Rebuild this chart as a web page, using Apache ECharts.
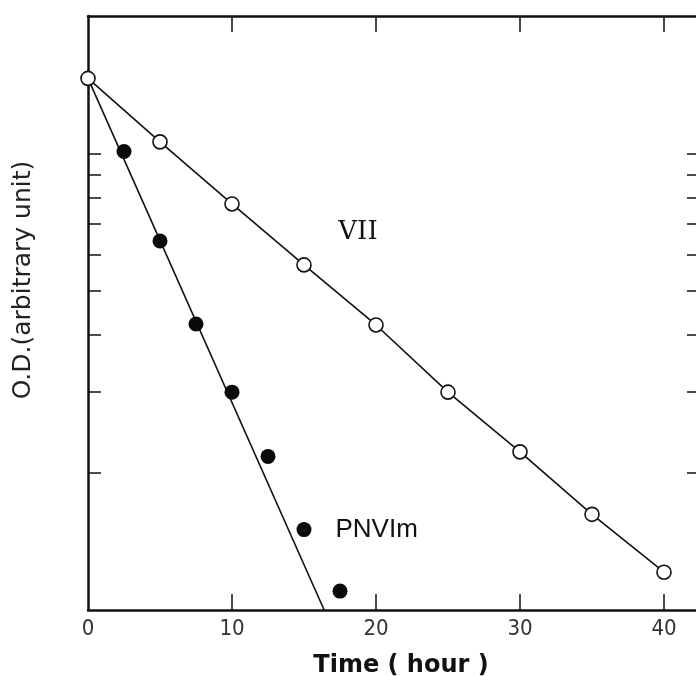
<!DOCTYPE html>
<html>
<head>
<meta charset="utf-8">
<script src="https://cdn.jsdelivr.net/npm/echarts@6/dist/echarts.min.js"></script>
<style>
  html, body { margin: 0; padding: 0; background: #fff; }
  #chart { width: 696px; height: 676px; }
</style>
</head>
<body>
<div id="chart"></div>
<script>
// open circles, compound VII
const hoursVII = [0, 5, 10, 15, 20, 25, 30, 35, 40];
const odVII = [14.6, 10.6, 7.75, 5.7, 4.21, 3.0, 2.22, 1.62, 1.21];
// filled circles, PNVIm
const hoursPNVIm = [2.5, 5, 7.5, 10, 12.5, 15, 17.5];
const odPNVIm = [10.1, 6.43, 4.23, 3.0, 2.17, 1.5, 1.1];
// straight fitted line for PNVIm
const fitHours = [0, 16.4];
const fitOd = [14.6, 1.0];
// axis ticks
const xLabels = [0, 10, 20, 30, 40];
const xTickVals = [10, 20, 30, 40];
const yTickVals = [2, 3, 4, 5, 6, 7, 8, 9, 10];

const chart = echarts.init(document.getElementById('chart'), null, { renderer: 'canvas' });

const axisLine = { show: true, onZero: false, lineStyle: { color: '#111', width: 2.5 } };
const labelFont = '"Liberation Sans Narrow", "DejaVu Sans Condensed", sans-serif';

const yAxisBase = {
  type: 'log',
  logBase: 10,
  min: 1,
  max: 20,
  axisLine: axisLine,
  axisTick: { show: true, inside: true, length: 13, customValues: yTickVals, lineStyle: { color: '#111', width: 1.5 } },
  axisLabel: { show: false },
  splitLine: { show: false },
  minorTick: { show: false }
};

const vIIData = hoursVII.map((h, i) => [h, odVII[i]]);
const pnData = hoursPNVIm.map((h, i) => {
  const item = { value: [h, odPNVIm[i]] };
  if (h === 15) {
    item.label = {
      show: true, formatter: 'PNVIm', position: 'right', distance: 24,
      fontFamily: 'Liberation Sans, sans-serif', fontSize: 26, color: '#111'
    };
  }
  return item;
});
const vIILabeled = vIIData.map((d) => {
  const item = { value: d };
  if (d[0] === 15) {
    item.label = {
      show: true, formatter: 'VII', position: 'top', offset: [54, -7],
      fontFamily: 'DejaVu Serif, serif', fontSize: 26, color: '#111'
    };
  }
  return item;
});

const option = {
  backgroundColor: '#fff',
  animation: false,
  // plot box runs a little past the right edge, as in the cropped original
  grid: { left: 88, right: -4, top: 16, bottom: 66, containLabel: false, outerBoundsMode: 'none' },
  xAxis: [
    {
      type: 'value',
      position: 'bottom',
      min: 0,
      max: 42.5,
      name: 'Time ( hour )',
      nameLocation: 'middle',
      nameGap: 44,
      nameTextStyle: { fontFamily: 'DejaVu Sans, sans-serif', fontSize: 24, fontWeight: 'bold', color: '#111', padding: [0, 0, 0, 14] },
      axisLine: axisLine,
      axisTick: { show: true, inside: true, length: 16, customValues: xTickVals, lineStyle: { color: '#111', width: 1.5 } },
      axisLabel: { show: true, customValues: xLabels, margin: 8, fontFamily: labelFont, fontSize: 22, color: '#333' },
      splitLine: { show: false }
    },
    {
      type: 'value',
      position: 'top',
      min: 0,
      max: 42.5,
      axisLine: axisLine,
      axisTick: { show: true, inside: true, length: 16, customValues: xTickVals, lineStyle: { color: '#111', width: 1.5 } },
      axisLabel: { show: false },
      splitLine: { show: false }
    }
  ],
  yAxis: [
    Object.assign({}, yAxisBase, {
      position: 'left',
      name: 'O.D.(arbitrary unit)',
      nameLocation: 'middle',
      nameGap: 52,
      nameTextStyle: { fontFamily: 'DejaVu Sans, sans-serif', fontSize: 25, color: '#222', padding: [0, 0, 0, 66] }
    }),
    Object.assign({}, yAxisBase, { position: 'right' })
  ],
  series: [
    {
      name: 'PNVIm fit',
      type: 'line',
      data: fitHours.map((h, i) => [h, fitOd[i]]),
      showSymbol: false,
      symbol: 'none',
      lineStyle: { color: '#111', width: 1.6 },
      z: 2
    },
    {
      name: 'PNVIm',
      type: 'scatter',
      data: pnData,
      symbol: 'circle',
      symbolSize: 15,
      itemStyle: { color: '#0a0a0a', opacity: 1 },
      z: 3
    },
    {
      name: 'VII',
      type: 'line',
      data: vIILabeled,
      symbol: 'circle',
      symbolSize: 14,
      showAllSymbol: true,
      lineStyle: { color: '#111', width: 1.6 },
      itemStyle: { color: '#fff', borderColor: '#111', borderWidth: 1.6 },
      z: 4
    }
  ]
};

chart.setOption(option);
window.addEventListener('resize', () => chart.resize());
</script>
</body>
</html>
